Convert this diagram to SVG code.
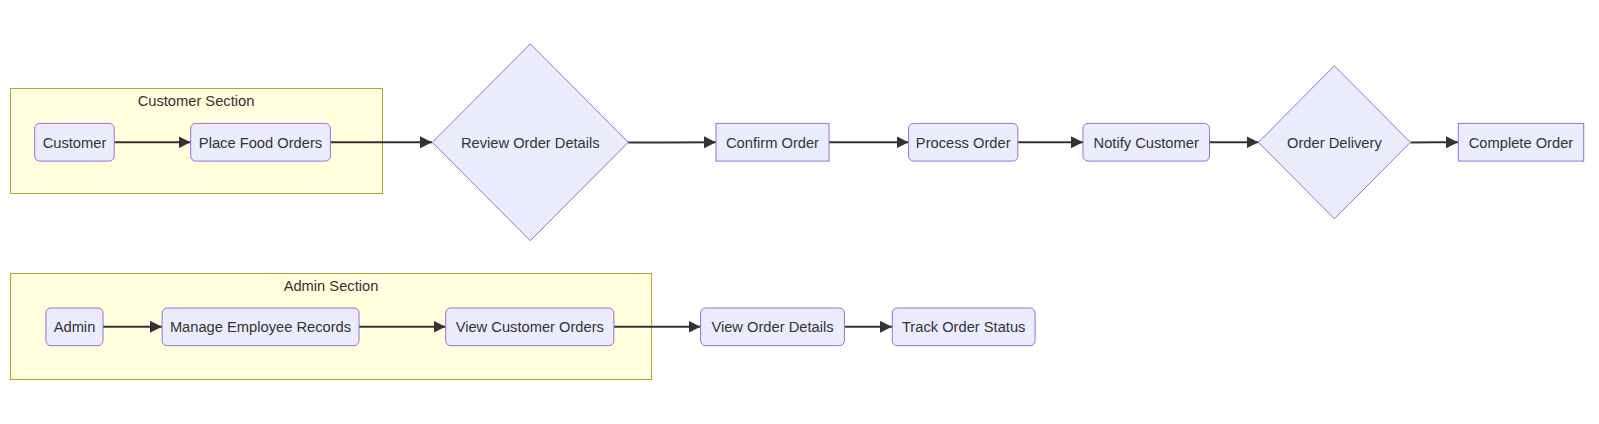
<svg xmlns="http://www.w3.org/2000/svg" width="1599" height="424" viewBox="0 0 1599 424">
<style>
text{font-family:"Liberation Sans",Arial,sans-serif;font-size:14.7px;fill:#333333;text-anchor:middle}
.cluster rect{fill:#ffffde;stroke:#aaaa33;stroke-width:1}
.node rect,.node polygon{fill:#ECECFF;stroke:#9370DB;stroke-width:1}
.edges path{fill:none;stroke:#333333;stroke-width:2;marker-end:url(#arrow)}
</style>
<defs>
<marker id="arrow" viewBox="0 0 10 10" refX="10" refY="5" markerUnits="userSpaceOnUse" markerWidth="12" markerHeight="12" orient="auto">
<path d="M0,0 L10,5 L0,10 z" fill="#333333"/>
</marker>
</defs>
<rect width="1599" height="424" fill="#ffffff"/>
<g id="cluster-customer" class="cluster">
<rect x="10.5" y="88.5" width="372" height="105"/>
<text x="196" y="106">Customer Section</text>
</g>
<g id="cluster-admin" class="cluster">
<rect x="10.5" y="273.5" width="641" height="106"/>
<text x="331" y="291">Admin Section</text>
</g>
<g class="edges" id="connectors">
<path d="M114.5,142.3 L190.5,142.3"/>
<path d="M330.5,142.3 L432,142.3"/>
<path d="M628,142.6 C660,142.4 680,142.3 716,142.3"/>
<path d="M829,142.3 L908.5,142.3"/>
<path d="M1018,142.3 L1083,142.3"/>
<path d="M1209.5,142.3 L1258.5,142.3"/>
<path d="M1410.5,142.6 C1430,142.4 1440,142.3 1458,142.3"/>
<path d="M103,326.8 L162,326.8"/>
<path d="M359,326.8 L445.5,326.8"/>
<path d="M614,326.8 L700.5,326.8"/>
<path d="M844.5,326.8 L892,326.8"/>
</g>
<g id="node-customer" class="node">
<rect x="34.7" y="123.4" width="79.5" height="37.7" rx="5" ry="5"/>
<text x="74.5" y="147.5">Customer</text>
</g>
<g id="node-place-food-orders" class="node">
<rect x="190.7" y="123.4" width="139.7" height="37.7" rx="5" ry="5"/>
<text x="260.5" y="147.5">Place Food Orders</text>
</g>
<g id="node-review-order-details" class="node">
<polygon points="530.3,43.9 628.2,142.3 530.3,240.7 432.4,142.3"/>
<text x="530.3" y="147.5">Review Order Details</text>
</g>
<g id="node-confirm-order" class="node">
<rect x="716" y="123.4" width="113" height="37.7"/>
<text x="772.5" y="147.5">Confirm Order</text>
</g>
<g id="node-process-order" class="node">
<rect x="908.6" y="123.4" width="109.2" height="37.7" rx="5" ry="5"/>
<text x="963.2" y="147.5">Process Order</text>
</g>
<g id="node-notify-customer" class="node">
<rect x="1083" y="123.4" width="126.5" height="37.7" rx="5" ry="5"/>
<text x="1146.2" y="147.5">Notify Customer</text>
</g>
<g id="node-order-delivery" class="node">
<polygon points="1334.4,65.8 1410.4,142.3 1334.4,218.8 1258.4,142.3"/>
<text x="1334.4" y="147.5">Order Delivery</text>
</g>
<g id="node-complete-order" class="node">
<rect x="1458.3" y="123.4" width="125.4" height="37.7"/>
<text x="1521" y="147.5">Complete Order</text>
</g>
<g id="node-admin" class="node">
<rect x="45.9" y="308" width="57.1" height="37.7" rx="5" ry="5"/>
<text x="74.5" y="332">Admin</text>
</g>
<g id="node-manage-employee-records" class="node">
<rect x="162.1" y="308" width="196.9" height="37.7" rx="5" ry="5"/>
<text x="260.5" y="332">Manage Employee Records</text>
</g>
<g id="node-view-customer-orders" class="node">
<rect x="445.7" y="308" width="168.2" height="37.7" rx="5" ry="5"/>
<text x="529.8" y="332">View Customer Orders</text>
</g>
<g id="node-view-order-details" class="node">
<rect x="700.6" y="308" width="143.8" height="37.7" rx="5" ry="5"/>
<text x="772.5" y="332">View Order Details</text>
</g>
<g id="node-track-order-status" class="node">
<rect x="892.3" y="308" width="142.8" height="37.7" rx="5" ry="5"/>
<text x="963.7" y="332">Track Order Status</text>
</g>
</svg>
